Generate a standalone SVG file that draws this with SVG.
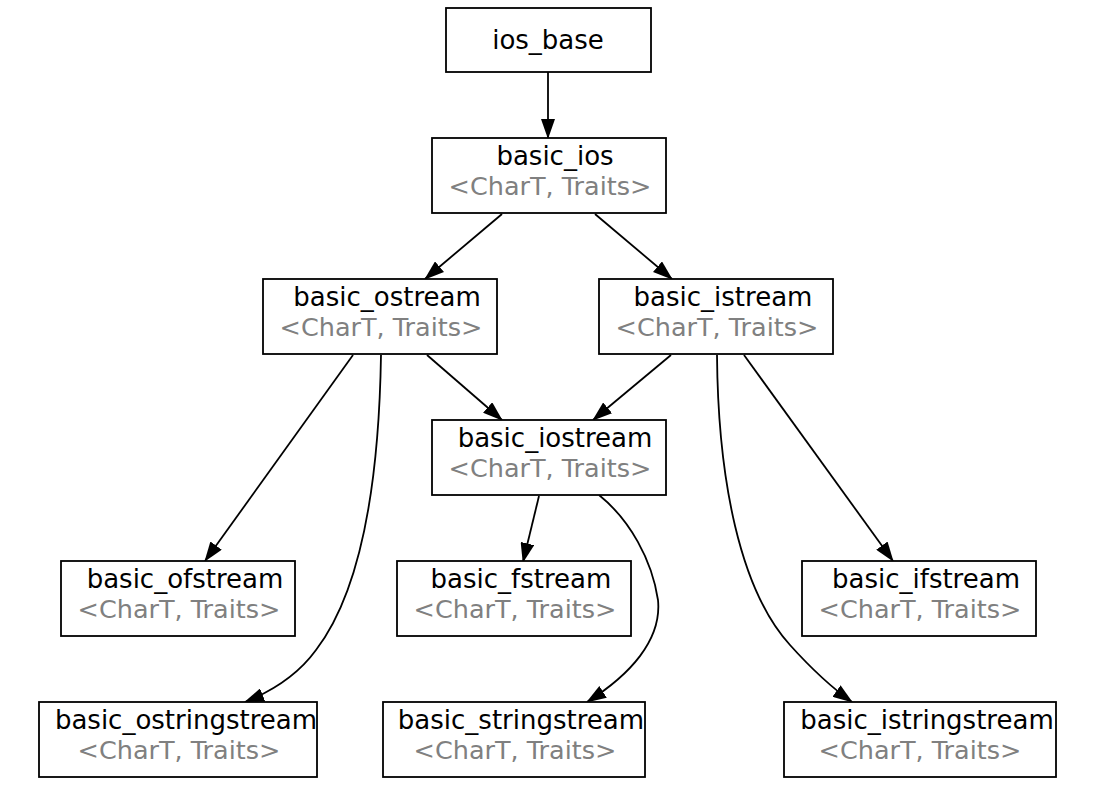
<svg xmlns="http://www.w3.org/2000/svg" width="1112" height="792" viewBox="0 0 1112 792">
<style>
.box{fill:#fff;stroke:#000;stroke-width:1.8}
.t{font-family:"DejaVu Sans",Verdana,sans-serif;font-size:26px;fill:#000;text-anchor:middle}
.s{font-family:"DejaVu Sans",Verdana,sans-serif;font-size:25.5px;fill:#808080;text-anchor:middle}
.e{fill:none;stroke:#000;stroke-width:1.8;marker-end:url(#ah)}
</style>
<defs>
<marker id="ah" markerUnits="userSpaceOnUse" viewBox="0 0 20 14" markerWidth="20" markerHeight="14" refX="19" refY="7" orient="auto">
<path d="M0,0 L20,7 L0,14 z" fill="#000"/>
</marker>
</defs>
<rect width="1112" height="792" fill="#fff"/>
<g id="connectors">
<path class="e" d="M548,72 L548,138"/>
<path class="e" d="M502,214 L425,279"/>
<path class="e" d="M595,214 L672,279"/>
<path class="e" d="M427,355 L502,420"/>
<path class="e" d="M671,355 L593,420"/>
<path class="e" d="M353,355 L205,561"/>
<path class="e" d="M381,355 C379,480 362,590 316,650 C300,672 275,690 245,702"/>
<path class="e" d="M539,496 L523,562"/>
<path class="e" d="M599,495 C630,520 652,560 658,600 C662,640 630,675 587,702"/>
<path class="e" d="M717,355 C718,480 740,590 790,645 C808,665 828,685 852,702"/>
<path class="e" d="M744,355 L893,561"/>
</g>
<g id="ios_base">
<rect class="box" x="446" y="8" width="205" height="64"/>
<text class="t" x="548" y="49">ios_base</text>
</g>
<g id="basic_ios">
<rect class="box" x="432" y="138" width="234" height="75"/>
<text class="t" x="555" y="165">basic_ios</text>
<text class="s" x="550" y="195">&lt;CharT, Traits&gt;</text>
</g>
<g id="basic_ostream">
<rect class="box" x="263" y="279" width="234" height="75"/>
<text class="t" x="387" y="306">basic_ostream</text>
<text class="s" x="381" y="336">&lt;CharT, Traits&gt;</text>
</g>
<g id="basic_istream">
<rect class="box" x="599" y="279" width="234" height="75"/>
<text class="t" x="723" y="306">basic_istream</text>
<text class="s" x="717" y="336">&lt;CharT, Traits&gt;</text>
</g>
<g id="basic_iostream">
<rect class="box" x="432" y="420" width="234" height="75"/>
<text class="t" x="555" y="447">basic_iostream</text>
<text class="s" x="550" y="477">&lt;CharT, Traits&gt;</text>
</g>
<g id="basic_ofstream">
<rect class="box" x="61" y="561" width="234" height="75"/>
<text class="t" x="185" y="588">basic_ofstream</text>
<text class="s" x="179" y="618">&lt;CharT, Traits&gt;</text>
</g>
<g id="basic_fstream">
<rect class="box" x="397" y="561" width="234" height="75"/>
<text class="t" x="521" y="588">basic_fstream</text>
<text class="s" x="515" y="618">&lt;CharT, Traits&gt;</text>
</g>
<g id="basic_ifstream">
<rect class="box" x="802" y="561" width="234" height="75"/>
<text class="t" x="926" y="588">basic_ifstream</text>
<text class="s" x="920" y="618">&lt;CharT, Traits&gt;</text>
</g>
<g id="basic_ostringstream">
<rect class="box" x="39" y="702" width="278" height="75"/>
<text class="t" x="186" y="729">basic_ostringstream</text>
<text class="s" x="179" y="759">&lt;CharT, Traits&gt;</text>
</g>
<g id="basic_stringstream">
<rect class="box" x="383" y="702" width="262" height="75"/>
<text class="t" x="521" y="729">basic_stringstream</text>
<text class="s" x="515" y="759">&lt;CharT, Traits&gt;</text>
</g>
<g id="basic_istringstream">
<rect class="box" x="784" y="702" width="272" height="75"/>
<text class="t" x="927" y="729">basic_istringstream</text>
<text class="s" x="920" y="759">&lt;CharT, Traits&gt;</text>
</g>
</svg>
